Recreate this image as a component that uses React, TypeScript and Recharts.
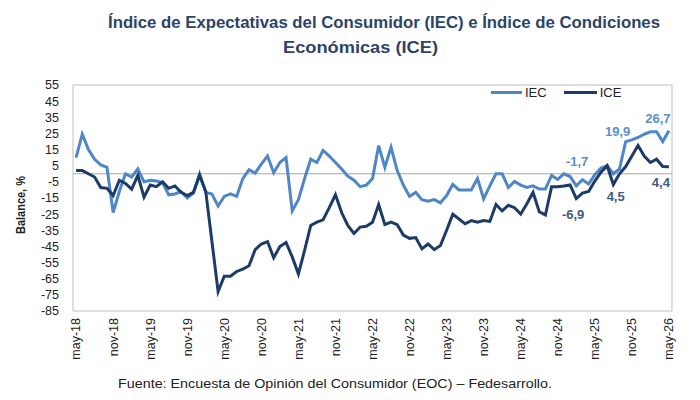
import React from 'react';
import { LineChart, Line, XAxis, YAxis, ReferenceLine, ReferenceArea, Legend, LabelList } from 'recharts';

// monthly balances, may-18 .. may-26
const tickLabels = [
  'may-18', 'nov-18', 'may-19', 'nov-19', 'may-20', 'nov-20', 'may-21', 'nov-21', 'may-22',
  'nov-22', 'may-23', 'nov-23', 'may-24', 'nov-24', 'may-25', 'nov-25', 'may-26',
];

const iecValues = [
  10, 24.5, 15, 9, 5.5, 4, -24, -11, 0, -2, 3, -5,
  -4, -4.5, -5.5, -13, -12.5, -11, -15, -12, 0, -11.5, -12.5, -20,
  -14, -12.5, -14, -3, 2.5, 0.5, 6, 11, 0.7, 7, 10, -23,
  -16, -3, 9, 7, 14.5, 11, 7, 3, -1.5, -4, -8, -7,
  -3, 17.5, 4, 16.5, 2, -7, -14, -11.5, -16, -17, -16, -18,
  -13.5, -6.5, -10, -10, -10, -3, -15.5, -7.5, 0, 0, -8.5, -4.7,
  -7, -8.5, -7.5, -9.5, -9.5, -1, -3.5, 0, -1.7, -7.5, -3.7, -6.3,
  -0.5, 3.5, 5, 0, 3, 19.9, 21, 22.5, 24.5, 26, 26, 20,
  26.7,
];

const iceValues = [
  2, 2, 0, -2, -8.5, -9, -13.5, -4, -6, -9.5, -1, -14.5,
  -7, -8, -5, -9, -7.5, -11.5, -13.5, -11.5, -1, -11, -42, -73,
  -63.5, -63.5, -60.5, -59, -57, -47, -43.5, -42, -52, -45, -42.5, -51.5,
  -62, -47.5, -32, -30, -28.5, -21, -13, -24, -32, -37, -33, -32.5,
  -30, -19, -31.5, -30, -31.5, -38, -40, -39.5, -46.5, -43.5, -47, -44.5,
  -35, -25, -28, -31, -29, -30, -29, -29.5, -19, -23, -19.5, -21,
  -25, -18.5, -11.5, -23.5, -25.5, -8, -8, -7.5, -6.9, -15.4, -12, -11,
  -4.5, 1, 5, -6.7, 0, 4.5, 11, 17.5, 11, 7, 9, 4.5,
  4.4,
];

const yTicks = [55, 45, 35, 25, 15, 5, -5, -15, -25, -35, -45, -55, -65, -75, -85];

const IEC_COLOR = '#4f86c6';
const ICE_COLOR = '#1d3b69';
const SANS = "'Liberation Sans', Arial, sans-serif";

// months that get a value callout, with the text offset from the point
const iecCallouts: Record<number, { dx: number; dy: number }> = {
  80: { dx: 7, dy: -15 },
  89: { dx: -8, dy: -10 },
  96: { dx: -11, dy: -12 },
};
const iceCallouts: Record<number, { dx: number; dy: number }> = {
  80: { dx: 3, dy: 30 },
  89: { dx: -10, dy: 30 },
  96: { dx: -8, dy: 16 },
};

const data = iecValues.map((v, i) => ({ idx: i, iec: v, ice: iceValues[i] }));

const fmt = (v: number) => v.toFixed(1).replace('.', ',');

const makeCallout = (notes: Record<number, { dx: number; dy: number }>, color: string) =>
  (props: any) => {
    const { x, y, index, value } = props;
    const note = notes[index];
    if (!note) return null;
    return (
      <text
        x={x + note.dx}
        y={y + note.dy}
        textAnchor="middle"
        dominantBaseline="central"
        fill={color}
        fontFamily={SANS}
        fontWeight="bold"
        fontSize={13}
      >
        {fmt(value)}
      </text>
    );
  };

const MonthTick = (props: any) => {
  const { x, y, payload } = props;
  return (
    <g transform={`translate(${x},${y})`}>
      <text
        transform="rotate(-90)"
        x={-7}
        dy="0.35em"
        textAnchor="end"
        fill="#222"
        fontFamily={SANS}
        fontSize={12.5}
      >
        {tickLabels[payload.value / 6]}
      </text>
    </g>
  );
};

const LegendBox = () => (
  <div style={{ display: 'flex', alignItems: 'center', fontFamily: SANS, fontSize: 13, color: '#222' }}>
    <span style={{ display: 'inline-block', width: 31, height: 3, background: IEC_COLOR, marginRight: 3 }} />
    <span style={{ marginRight: 17 }}>IEC</span>
    <span style={{ display: 'inline-block', width: 33, height: 3, background: ICE_COLOR, marginRight: 3 }} />
    <span>ICE</span>
  </div>
);

// condensed headings: fixed widths squeeze the glyphs like a narrow face
const Headings = () => (
  <svg width={700} height={400} style={{ position: 'absolute', left: 0, top: 0, pointerEvents: 'none' }}>
    <g fontFamily={SANS} fontWeight="bold" fontSize={17} fill="#2c4466">
      <text x={108} y={28} textLength={552} lengthAdjust="spacingAndGlyphs">
        Índice de Expectativas del Consumidor (IEC) e Índice de Condiciones
      </text>
      <text x={283} y={53} textLength={155} lengthAdjust="spacingAndGlyphs">
        Económicas (ICE)
      </text>
    </g>
    <text
      transform="translate(25,205) rotate(-90)"
      textAnchor="middle"
      fontFamily={SANS}
      fontWeight="bold"
      fontSize={12.5}
      fill="#222"
      textLength={58}
      lengthAdjust="spacingAndGlyphs"
    >
      Balance, %
    </text>
    <text x={118} y={388} fontFamily={SANS} fontSize={13} fill="#222" textLength={434} lengthAdjust="spacingAndGlyphs">
      Fuente: Encuesta de Opinión del Consumidor (EOC) – Fedesarrollo.
    </text>
  </svg>
);

const App = () => {
  return (
    <div style={{ position: 'absolute', left: 0, top: 0, width: 700, height: 400, background: '#fff' }}>
      <LineChart width={700} height={400} data={data} margin={{ top: 70, right: 28, left: 0, bottom: 39 }}>
        <ReferenceArea x1={-0.5} x2={96.5} y1={-85} y2={55} fill="none" stroke="#bfbfbf" strokeWidth={1} />
        <ReferenceLine y={0} stroke="#a6a6a6" strokeWidth={1} />
        <XAxis
          dataKey="idx"
          type="number"
          domain={[-0.5, 96.5]}
          ticks={tickLabels.map((_, k) => k * 6)}
          axisLine={false}
          tickLine={false}
          tickSize={0}
          tickMargin={0}
          height={50}
          interval={0}
          tick={<MonthTick />}
        />
        <YAxis
          type="number"
          domain={[-85, 55]}
          ticks={yTicks}
          interval={0}
          axisLine={false}
          tickLine={false}
          tickSize={0}
          tickMargin={14}
          width={73}
          tick={{ fill: '#222', fontFamily: SANS, fontSize: 12.5 }}
        />
        <Legend
          verticalAlign="top"
          align="left"
          content={<LegendBox />}
          wrapperStyle={{ top: 85, left: 491, width: 160 }}
        />
        <Line
          type="linear"
          dataKey="iec"
          stroke={IEC_COLOR}
          strokeWidth={3}
          dot={false}
          isAnimationActive={false}
        >
          <LabelList dataKey="iec" content={makeCallout(iecCallouts, '#5b8fcb')} />
        </Line>
        <Line
          type="linear"
          dataKey="ice"
          stroke={ICE_COLOR}
          strokeWidth={3}
          dot={false}
          isAnimationActive={false}
        >
          <LabelList dataKey="ice" content={makeCallout(iceCallouts, '#3e5a82')} />
        </Line>
      </LineChart>
      <Headings />
    </div>
  );
};

export default App;
